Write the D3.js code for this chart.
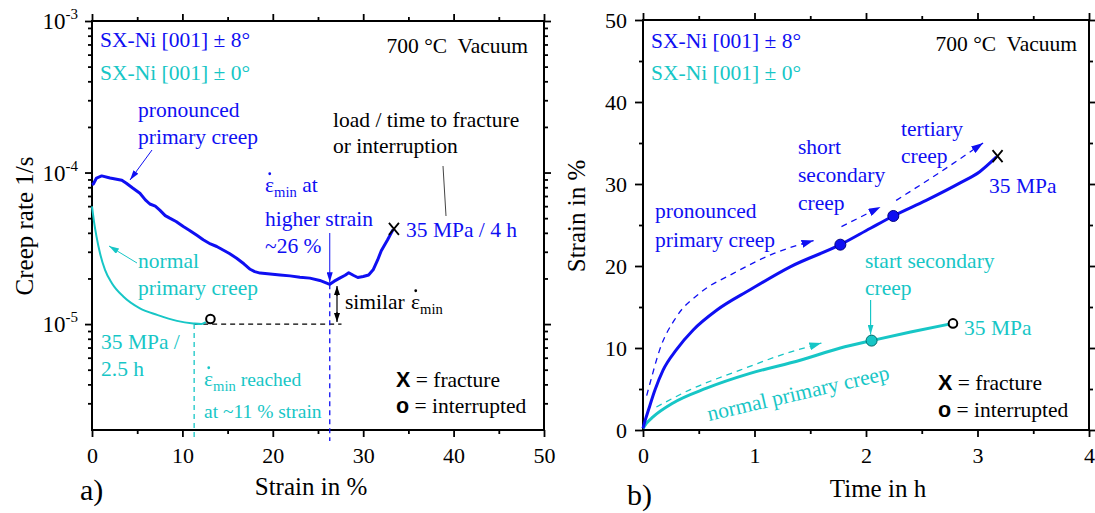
<!DOCTYPE html>
<html><head><meta charset="utf-8">
<script src="https://cdn.jsdelivr.net/npm/d3@7"></script>
<style>body{margin:0;background:#fff} svg{display:block}</style>
</head><body>
<svg id="c" width="1095" height="513" font-family="Liberation Serif"></svg>
<script>
// ---------- DATA ----------
// Panel a) creep rate vs strain
const strainA8 = [0, 0.15, 0.5, 1.07, 2.0, 3.3, 3.8, 4.5, 5.3, 5.9, 6.4, 7.0, 7.5, 8.1, 8.6, 9.3, 10.1, 10.8, 11.6, 12.3, 13.1, 13.8, 14.5, 15.2, 16.0, 16.8, 17.5, 18.0, 18.6, 19.7, 20.8, 21.9, 23.0, 24.1, 25.2, 26.3, 26.8, 27.4, 28.0, 28.4, 28.9, 29.4, 30.0, 30.6, 31.1, 31.6, 32.0, 32.7, 33.3];
const rateA8   = [8.3e-5, 8.4e-5, 9.2e-5, 9.5e-5, 9.2e-5, 8.9e-5, 8.5e-5, 7.9e-5, 7.3e-5, 6.6e-5, 6.2e-5, 6.0e-5, 5.65e-5, 5.2e-5, 5.0e-5, 4.75e-5, 4.4e-5, 4.15e-5, 3.85e-5, 3.6e-5, 3.38e-5, 3.25e-5, 3.08e-5, 2.92e-5, 2.72e-5, 2.5e-5, 2.3e-5, 2.22e-5, 2.17e-5, 2.14e-5, 2.11e-5, 2.08e-5, 2.04e-5, 2.01e-5, 1.94e-5, 1.83e-5, 1.92e-5, 2.01e-5, 2.1e-5, 2.18e-5, 2.1e-5, 2.03e-5, 2.06e-5, 2.11e-5, 2.28e-5, 2.65e-5, 3.05e-5, 3.6e-5, 4.2e-5];
const strainA0 = [0, 0.22, 0.5, 0.88, 1.44, 2.2, 3.46, 5.3, 7.2, 9.4, 11.2, 12.1, 12.6];
const rateA0   = [5.97e-5, 4.75e-5, 3.78e-5, 2.94e-5, 2.28e-5, 1.86e-5, 1.52e-5, 1.27e-5, 1.15e-5, 1.05e-5, 1.01e-5, 1.0e-5, 1.03e-5];
const fractureA = [33.4, 4.25e-5];      // X
const interruptA = [13.1, 1.08e-5];     // o
const minStrain8 = 26.3, minRate8 = 1.83e-5;
const minStrain0 = 11.3, minRate0 = 1.0e-5;
const xTicksA = [0, 10, 20, 30, 40, 50];
const xMinorA = [5, 15, 25, 35, 45];
const yMajorA = [1e-5, 1e-4, 1e-3];
const yExpA = ["-5", "-4", "-3"];

// Panel b) strain vs time
const timeB8   = [0, 0.02, 0.048, 0.108, 0.18, 0.30, 0.45, 0.66, 0.96, 1.32, 1.77, 2.04, 2.245, 2.54, 2.84, 3.02, 3.17];
const strainB8 = [0.2, 1.2, 2.4, 4.9, 7.3, 9.8, 12.2, 14.6, 17.1, 19.9, 22.6, 24.6, 26.1, 28.0, 30.1, 31.5, 33.3];
const timeB0   = [0, 0.03, 0.09, 0.27, 0.57, 0.96, 1.41, 1.77, 2.05, 2.4, 2.78];
const strainB0 = [0.2, 0.8, 1.6, 3.3, 5.1, 6.9, 8.5, 10.0, 10.9, 11.95, 13.0];
const stageT8 = [1.77, 2.245], stageS8 = [22.6, 26.1];
const stageT0 = [2.05], stageS0 = [10.9];
const fractureB = [3.18, 33.4];
const interruptB = [2.78, 13.0];
// dashed trend arrows
const guideT8a = [0.033, 0.063, 0.15, 0.30, 0.51, 0.81, 1.17, 1.53];
const guideS8a = [4.2, 5.7, 9.8, 13.8, 16.7, 19.1, 21.5, 23.1];
const guideT8b = [1.78, 2.13], guideS8b = [24.8, 27.2];
const guideT8c = [2.27, 2.66, 3.05], guideS8c = [28.0, 31.4, 35.0];
const guideT0  = [0.12, 0.42, 0.87, 1.23, 1.60];
const guideS0  = [2.8, 4.9, 7.3, 9.1, 10.6];
const xTicksB = [0, 1, 2, 3, 4];
const xMinorB = [0.5, 1.5, 2.5, 3.5];
const yTicksB = [0, 10, 20, 30, 40, 50];
const yMinorB = [5, 15, 25, 35, 45];

// ---------- SETUP ----------
const SERIF = "Liberation Serif", SANS = "Liberation Sans";
const BLUE = "#0f0ff2", CYAN = "#17c6c6", BLACK = "#000";
const svg = d3.select("#c");
const defs = svg.append("defs");
function arrowMarker(id, color, w, h) {
  defs.append("marker").attr("id", id).attr("viewBox", "0 0 10 10")
    .attr("refX", 10).attr("refY", 5).attr("markerUnits", "userSpaceOnUse")
    .attr("markerWidth", w).attr("markerHeight", h).attr("preserveAspectRatio", "none")
    .attr("orient", "auto-start-reverse")
    .append("path").attr("d", "M0,0L10,5L0,10Z").attr("fill", color);
}
arrowMarker("abB", BLUE, 12, 8);
arrowMarker("abC", CYAN, 12, 8);
arrowMarker("asB", BLUE, 10, 6);
arrowMarker("asC", CYAN, 10, 6);
arrowMarker("asK", BLACK, 9, 6);

const xA = d3.scaleLinear([0, 50], [92, 544]);
const yA = d3.scaleLog([2e-6, 1e-3], [430, 21]);
const xB = d3.scaleLinear([0, 4], [643, 1089]);
const yB = d3.scaleLinear([0, 50], [430, 20]);

function styleAxis(g) {
  g.select(".domain").remove();
  g.selectAll("line").attr("stroke", BLACK).attr("stroke-width", 1.8);
  g.attr("font-family", SERIF).attr("font-size", 22);
  g.selectAll("text").attr("fill", BLACK).attr("font-family", SERIF);
}

function frame(x, y) {
  const [x0, x1] = x.range(), [y0, y1] = y.range();
  svg.append("rect").attr("x", x0).attr("y", y1).attr("width", x1 - x0).attr("height", y0 - y1)
    .attr("fill", "none").attr("stroke", BLACK).attr("stroke-width", 2);
}

// ---------- PANEL A AXES ----------
(function () {
  const b = yA.range()[0], t = yA.range()[1], l = xA.range()[0], r = xA.range()[1];
  svg.append("g").attr("transform", `translate(0,${b})`)
    .call(d3.axisBottom(xA).tickValues(xTicksA).tickSize(7).tickPadding(10).tickFormat(d3.format("d"))).call(styleAxis);
  svg.append("g").attr("transform", `translate(0,${b})`)
    .call(d3.axisBottom(xA).tickValues(xMinorA).tickSize(4).tickFormat("")).call(styleAxis);
  svg.append("g").attr("transform", `translate(0,${t})`)
    .call(d3.axisTop(xA).tickValues(xTicksA).tickSize(7).tickFormat("")).call(styleAxis);
  svg.append("g").attr("transform", `translate(0,${t})`)
    .call(d3.axisTop(xA).tickValues(xMinorA).tickSize(4).tickFormat("")).call(styleAxis);
  const minors = [];
  [1e-6, 1e-5, 1e-4].forEach(dec => { for (let k = 2; k <= 9; k++) { const v = k * dec; if (v > 2.05e-6 && v < 1e-3) minors.push(v); } });
  [["axisLeft", l], ["axisRight", r]].forEach(([fn, xx]) => {
    svg.append("g").attr("transform", `translate(${xx},0)`)
      .call(d3[fn](yA).tickValues(yMajorA).tickSize(7).tickFormat("")).call(styleAxis);
    svg.append("g").attr("transform", `translate(${xx},0)`)
      .call(d3[fn](yA).tickValues(minors).tickSize(4).tickFormat("")).call(styleAxis);
  });
  yMajorA.forEach((v, i) => {
    const tx = svg.append("text").attr("x", l - 14).attr("y", yA(v) + 8)
      .attr("text-anchor", "end").attr("font-size", 23).attr("font-family", SERIF).attr("fill", BLACK);
    tx.append("tspan").text("10");
    tx.append("tspan").attr("font-size", 15).attr("dy", -10).text(yExpA[i]);
  });
  frame(xA, yA);
})();

// ---------- PANEL B AXES ----------
(function () {
  const b = yB.range()[0], t = yB.range()[1], l = xB.range()[0], r = xB.range()[1];
  svg.append("g").attr("transform", `translate(0,${b})`)
    .call(d3.axisBottom(xB).tickValues(xTicksB).tickSize(7).tickPadding(10).tickFormat(d3.format("d"))).call(styleAxis);
  svg.append("g").attr("transform", `translate(0,${b})`)
    .call(d3.axisBottom(xB).tickValues(xMinorB).tickSize(4).tickFormat("")).call(styleAxis);
  svg.append("g").attr("transform", `translate(0,${t})`)
    .call(d3.axisTop(xB).tickValues(xTicksB).tickSize(7).tickFormat("")).call(styleAxis);
  svg.append("g").attr("transform", `translate(0,${t})`)
    .call(d3.axisTop(xB).tickValues(xMinorB).tickSize(4).tickFormat("")).call(styleAxis);
  const gl = svg.append("g").attr("transform", `translate(${l},0)`)
    .call(d3.axisLeft(yB).tickValues(yTicksB).tickSize(8).tickPadding(8).tickFormat(d3.format("d"))).call(styleAxis);
  gl.selectAll("text").attr("dy", "0.36em");
  svg.append("g").attr("transform", `translate(${l},0)`)
    .call(d3.axisLeft(yB).tickValues(yMinorB).tickSize(4).tickFormat("")).call(styleAxis);
  svg.append("g").attr("transform", `translate(${r},0)`)
    .call(d3.axisRight(yB).tickValues(yTicksB).tickSize(8).tickFormat("")).call(styleAxis);
  svg.append("g").attr("transform", `translate(${r},0)`)
    .call(d3.axisRight(yB).tickValues(yMinorB).tickSize(4).tickFormat("")).call(styleAxis);
  frame(xB, yB);
})();

// ---------- helpers ----------
function txt(x, y, s, o = {}) {
  return svg.append("text").attr("x", x).attr("y", y).attr("font-size", o.size || 21.5)
    .attr("font-family", SERIF)
    .attr("fill", o.color || BLACK).attr("text-anchor", o.anchor || "start")
    .style("white-space", "pre").text(s);
}
function arrow(x1, y1, x2, y2, color, marker, w) {
  svg.append("line").attr("x1", x1).attr("y1", y1).attr("x2", x2).attr("y2", y2)
    .attr("stroke", color).attr("stroke-width", w || 1).attr("marker-end", `url(#${marker})`);
}
function epsMin(x, y, color, size, after, afterSize) {
  const t = svg.append("text").attr("x", x).attr("y", y).attr("font-size", size).attr("font-family", SERIF)
    .attr("fill", color).style("white-space", "pre");
  t.append("tspan").text("ε");
  t.append("tspan").attr("font-size", size * 0.68).attr("dy", 5).text("min");
  if (after) t.append("tspan").attr("dy", -5).attr("font-size", afterSize || size).text(after);
  svg.append("circle").attr("cx", x + size * 0.22).attr("cy", y - size * 0.85).attr("r", 1.4).attr("fill", color);
}
function xMark(cx, cy, color) {
  svg.append("path").attr("d", `M${cx - 5},${cy - 6}L${cx + 5},${cy + 6}M${cx - 5},${cy + 6}L${cx + 5},${cy - 6}`)
    .attr("stroke", color).attr("stroke-width", 1.8).attr("fill", "none");
}
function legend(x, y1, y2) {
  const t1 = svg.append("text").attr("x", x).attr("y", y1).attr("font-size", 21.5).attr("font-family", SERIF).style("white-space", "pre");
  t1.append("tspan").attr("font-family", SANS).attr("font-weight", "bold").text("X");
  t1.append("tspan").text(" = fracture");
  const t2 = svg.append("text").attr("x", x).attr("y", y2).attr("font-size", 21.5).attr("font-family", SERIF).style("white-space", "pre");
  t2.append("tspan").attr("font-family", SANS).attr("font-weight", "bold").text("o");
  t2.append("tspan").text(" = interrupted");
}

// ---------- PANEL A MARKS ----------
const bottomA = yA.range()[0];
svg.append("line").attr("x1", xA(minStrain0)).attr("x2", xA(27.6)).attr("y1", yA(minRate0)).attr("y2", yA(minRate0))
  .attr("stroke", BLACK).attr("stroke-width", 1.2).attr("stroke-dasharray", "5,4");
svg.append("line").attr("x1", xA(minStrain0)).attr("x2", xA(minStrain0)).attr("y1", yA(minRate0)).attr("y2", bottomA + 11)
  .attr("stroke", CYAN).attr("stroke-width", 1.3).attr("stroke-dasharray", "5,4");
svg.append("line").attr("x1", xA(minStrain8)).attr("x2", xA(minStrain8)).attr("y1", yA(minRate8)).attr("y2", bottomA + 11)
  .attr("stroke", BLUE).attr("stroke-width", 1.3).attr("stroke-dasharray", "5,4");

svg.append("path").datum(strainA0.map((s, i) => [s, rateA0[i]]))
  .attr("d", d3.line().x(d => xA(d[0])).y(d => yA(d[1])).curve(d3.curveMonotoneX))
  .attr("fill", "none").attr("stroke", CYAN).attr("stroke-width", 2);
svg.append("path").datum(strainA8.map((s, i) => [s, rateA8[i]]))
  .attr("d", d3.line().x(d => xA(d[0])).y(d => yA(d[1])))
  .attr("fill", "none").attr("stroke", BLUE).attr("stroke-width", 3).attr("stroke-linejoin", "round");
xMark(xA(fractureA[0]), yA(fractureA[1]), BLACK);
svg.append("circle").attr("cx", xA(interruptA[0])).attr("cy", yA(interruptA[1])).attr("r", 4.3)
  .attr("fill", "#fff").attr("stroke", BLACK).attr("stroke-width", 2);

txt(100, 47, "SX-Ni [001] ± 8°", { color: BLUE });
txt(100, 80, "SX-Ni [001] ± 0°", { color: CYAN });
txt(528, 53, "700 °C  Vacuum", { anchor: "end" });
txt(138, 117, "pronounced", { color: BLUE });
txt(138, 144, "primary creep", { color: BLUE });
arrow(152, 150, 130, 180, BLUE, "asB", 1);
txt(138, 268, "normal", { color: CYAN });
txt(138, 295, "primary creep", { color: CYAN });
arrow(137, 263, 109, 246, CYAN, "asC", 1);
txt(101, 349, "35 MPa /", { color: CYAN });
txt(101, 376, "2.5 h", { color: CYAN });
epsMin(204, 386, CYAN, 21.5, " reached", 19.5);
txt(204, 418, "at ~11 % strain", { color: CYAN, size: 19.5 });
epsMin(265, 192, BLUE, 21.5, " at");
txt(265, 226, "higher strain", { color: BLUE });
txt(265, 253, "~26 %", { color: BLUE });
arrow(xA(minStrain8), 233, xA(minStrain8), yA(minRate8) - 2, BLUE, "asB", 1);
arrow(337, 296, 337, 286, BLACK, "asK", 1.2);
arrow(337, 312, 337, 322, BLACK, "asK", 1.2);
svg.append("line").attr("x1", 337).attr("x2", 337).attr("y1", 292).attr("y2", 316).attr("stroke", BLACK).attr("stroke-width", 1.2);
txt(345, 309, "similar");
epsMin(411, 309, BLACK, 21.5);
txt(333, 127, "load / time to fracture");
txt(333, 153, "or interruption");
svg.append("line").attr("x1", 443).attr("y1", 166).attr("x2", 446).attr("y2", 216).attr("stroke", "#444").attr("stroke-width", 1);
txt(406, 237, "35 MPa / 4 h", { color: BLUE });
legend(396, 387, 413);
txt(311, 495, "Strain in %", { size: 25, anchor: "middle" });
svg.append("text").attr("transform", "translate(33,226) rotate(-90)").attr("text-anchor", "middle")
  .attr("font-family", SERIF).attr("font-size", 25).text("Creep rate 1/s");
txt(80, 500, "a)", { size: 30 });

// ---------- PANEL B MARKS ----------
const lineB = d3.line().x(d => xB(d[0])).y(d => yB(d[1])).curve(d3.curveMonotoneX);
function guide(ts, ss, color, marker) {
  svg.append("path").datum(ts.map((t, i) => [t, ss[i]])).attr("d", lineB)
    .attr("fill", "none").attr("stroke", color).attr("stroke-width", 1.3).attr("stroke-dasharray", "6,5")
    .attr("marker-end", `url(#${marker})`);
}
guide(guideT8a, guideS8a, BLUE, "abB");
guide(guideT8b, guideS8b, BLUE, "abB");
guide(guideT8c, guideS8c, BLUE, "abB");
guide(guideT0, guideS0, CYAN, "abC");

svg.append("path").datum(timeB0.map((t, i) => [t, strainB0[i]])).attr("d", lineB)
  .attr("fill", "none").attr("stroke", CYAN).attr("stroke-width", 3);
svg.append("path").datum(timeB8.map((t, i) => [t, strainB8[i]])).attr("d", lineB)
  .attr("fill", "none").attr("stroke", BLUE).attr("stroke-width", 3);
stageT8.forEach((t, i) => svg.append("circle").attr("cx", xB(t)).attr("cy", yB(stageS8[i])).attr("r", 5.5)
  .attr("fill", BLUE).attr("stroke", "#000080").attr("stroke-width", 1));
stageT0.forEach((t, i) => svg.append("circle").attr("cx", xB(t)).attr("cy", yB(stageS0[i])).attr("r", 5.5)
  .attr("fill", CYAN).attr("stroke", "#006b6b").attr("stroke-width", 1));
xMark(xB(fractureB[0]), yB(fractureB[1]), BLACK);
svg.append("circle").attr("cx", xB(interruptB[0])).attr("cy", yB(interruptB[1])).attr("r", 4.3)
  .attr("fill", "#fff").attr("stroke", BLACK).attr("stroke-width", 2);

txt(651, 48, "SX-Ni [001] ± 8°", { color: BLUE });
txt(651, 80, "SX-Ni [001] ± 0°", { color: CYAN });
txt(1077, 51, "700 °C  Vacuum", { anchor: "end" });
txt(655, 218, "pronounced", { color: BLUE });
txt(655, 247, "primary creep", { color: BLUE });
txt(798, 154, "short", { color: BLUE });
txt(798, 182, "secondary", { color: BLUE });
txt(798, 210, "creep", { color: BLUE });
txt(901, 136, "tertiary", { color: BLUE });
txt(901, 163, "creep", { color: BLUE });
txt(989, 193, "35 MPa", { color: BLUE });
txt(865, 268, "start secondary", { color: CYAN });
txt(865, 295, "creep", { color: CYAN });
arrow(xB(stageT0[0]) - 1, 300, xB(stageT0[0]) - 1, yB(stageS0[0]) - 6, CYAN, "asC", 1.2);
txt(964, 335, "35 MPa", { color: CYAN });
svg.append("text").attr("transform", "translate(709,421) rotate(-13)").attr("font-size", 21.5)
  .attr("font-family", SERIF).attr("fill", CYAN).text("normal primary creep");
legend(938, 390, 417);
txt(878, 497, "Time in h", { size: 25, anchor: "middle" });
svg.append("text").attr("transform", "translate(585,216) rotate(-90)").attr("text-anchor", "middle")
  .attr("font-family", SERIF).attr("font-size", 25).text("Strain in %");
txt(627, 505, "b)", { size: 30 });
</script>
</body></html>
